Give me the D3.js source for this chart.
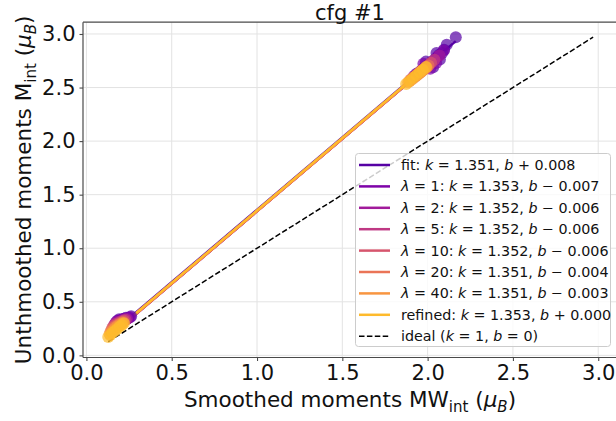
<!DOCTYPE html>
<html><head><meta charset="utf-8">
<script src="https://cdn.jsdelivr.net/npm/d3@7"></script>
<style>
body{margin:0;background:#fff}
svg{display:block;font-family:"DejaVu Sans",sans-serif}
text{white-space:pre}
</style>
</head><body><svg id="c" width="616" height="421"></svg>
<script>
// ---------- data ----------
const seriesTags = ["fit", "1", "2", "5", "10", "20", "40", "refined"];
const seriesK = [1.351, 1.353, 1.352, 1.352, 1.352, 1.351, 1.351, 1.353];
const seriesB = [0.008, -0.007, -0.006, -0.006, -0.006, -0.004, -0.003, 0.000];

const ptsFit = [[0.178,0.318],[0.192,0.336],[0.205,0.330],[0.218,0.342],[0.232,0.350],[0.248,0.352],[0.262,0.364],[0.200,0.312],
  [1.935,2.628],[1.958,2.652],[1.982,2.690],[2.004,2.712],[2.026,2.744],[2.047,2.770],[2.068,2.805],[2.085,2.822],[2.112,2.900],[2.165,2.970],
  [1.990,2.742],[2.032,2.690],[2.072,2.762],[2.052,2.822],[2.096,2.852]];
const ptsL1 = [[0.172,0.305],[0.186,0.326],[0.199,0.322],[0.213,0.336],[0.228,0.344],[0.243,0.346],[0.256,0.356],
  [1.925,2.612],[1.950,2.640],[1.974,2.676],[1.996,2.700],[2.018,2.730],[2.040,2.758],[2.060,2.790],[2.095,2.846],
  [1.975,2.722],[2.015,2.676],[2.050,2.730]];
const ptsL2 = [[0.165,0.290],[0.179,0.312],[0.193,0.312],[0.207,0.326],[0.222,0.334],[0.238,0.340],
  [1.918,2.600],[1.942,2.628],[1.966,2.662],[1.988,2.688],[2.010,2.716],[2.032,2.742],[2.070,2.800]];
const ptsL5 = [[0.158,0.272],[0.172,0.296],[0.186,0.300],[0.200,0.314],[0.215,0.322],[0.230,0.332],
  [1.910,2.588],[1.934,2.614],[1.957,2.648],[1.979,2.674],[2.001,2.700],[2.040,2.760]];
const ptsL10 = [[0.150,0.250],[0.164,0.276],[0.178,0.284],[0.192,0.300],[0.207,0.310],[0.222,0.322],
  [1.902,2.576],[1.925,2.600],[1.948,2.632],[1.970,2.660],[1.992,2.686],[2.020,2.732]];
const ptsL20 = [[0.142,0.226],[0.156,0.252],[0.170,0.266],[0.185,0.284],[0.200,0.298],[0.216,0.312],
  [1.894,2.562],[1.916,2.588],[1.939,2.618],[1.961,2.646],[1.982,2.672],[2.005,2.706]];
const ptsL40 = [[0.136,0.200],[0.150,0.226],[0.164,0.246],[0.179,0.266],[0.194,0.284],[0.210,0.300],
  [1.886,2.550],[1.908,2.576],[1.930,2.604],[1.952,2.632],[1.972,2.660],[1.994,2.690]];
const ptsRef = [[0.128,0.172],[0.140,0.190],[0.153,0.210],[0.166,0.228],[0.180,0.246],[0.194,0.266],[0.208,0.284],[0.220,0.300],
  [1.874,2.534],[1.894,2.560],[1.914,2.588],[1.934,2.614],[1.954,2.642],[1.972,2.666],[1.990,2.692]];
const seriesPts = [ptsFit, ptsL1, ptsL2, ptsL5, ptsL10, ptsL20, ptsL40, ptsRef];

const xTicks = [0, 0.5, 1.0, 1.5, 2.0, 2.5, 3.0];
const yTicks = [0, 0.5, 1.0, 1.5, 2.0, 2.5, 3.0];
const axisLimits = [-0.02, 3.11];
const titleText = "cfg #1";

// ---------- layout ----------
const L = 83, R = 617, T = 22.2, B = 357.5;
const svg = d3.select("#c");
const x = d3.scaleLinear().domain(axisLimits).range([L, R]);
const y = d3.scaleLinear().domain(axisLimits).range([B, T]);
const colors = seriesTags.map((d, i) => d3.interpolatePlasma(0.15 + i * 0.1));
const spineCol = "#4a4a4a";

svg.append("defs").append("clipPath").attr("id", "clip")
  .append("rect").attr("x", L).attr("y", T).attr("width", R - L).attr("height", B - T);

// grid
const grid = svg.append("g");
grid.selectAll(".gx").data(xTicks).join("line")
  .attr("x1", d => x(d)).attr("x2", d => x(d)).attr("y1", T).attr("y2", B)
  .attr("stroke", "#e3e3e3").attr("stroke-width", 1);
grid.selectAll(".gy").data(yTicks).join("line")
  .attr("y1", d => y(d)).attr("y2", d => y(d)).attr("x1", L).attr("x2", R)
  .attr("stroke", "#e3e3e3").attr("stroke-width", 1);

const plot = svg.append("g").attr("clip-path", "url(#clip)");

// ideal line
const allVals = seriesPts.flat().flat();
const lo = d3.min(allVals), hi = d3.max(allVals);
plot.append("line")
  .attr("x1", x(lo)).attr("y1", y(lo)).attr("x2", x(hi)).attr("y2", y(hi))
  .attr("stroke", "#000").attr("stroke-width", 1.5).attr("stroke-dasharray", "5.5,2.4");

// fit lines
seriesPts.forEach((pts, i) => {
  const ex = d3.extent(pts, d => d[0]);
  plot.append("line")
    .attr("x1", x(ex[0])).attr("y1", y(seriesK[i] * ex[0] + seriesB[i]))
    .attr("x2", x(ex[1])).attr("y2", y(seriesK[i] * ex[1] + seriesB[i]))
    .attr("stroke", colors[i]).attr("stroke-width", 2.5);
});
// scatter
seriesPts.forEach((pts, i) => {
  plot.append("g").selectAll("circle").data(pts).join("circle")
    .attr("cx", d => x(d[0])).attr("cy", d => y(d[1])).attr("r", 6)
    .attr("fill", colors[i]).attr("fill-opacity", 0.7);
});

// spines
svg.append("line").attr("x1", L).attr("x2", L).attr("y1", T).attr("y2", B).attr("stroke", spineCol).attr("stroke-width", 1.2);
svg.append("line").attr("x1", L).attr("x2", R).attr("y1", B).attr("y2", B).attr("stroke", spineCol).attr("stroke-width", 1.2);
svg.append("line").attr("x1", L).attr("x2", R).attr("y1", T).attr("y2", T).attr("stroke", spineCol).attr("stroke-width", 1.2);

// axes
const xAxis = svg.append("g").attr("transform", `translate(0,${B})`)
  .call(d3.axisBottom(x).tickValues(xTicks).tickFormat(d3.format(".1f")).tickSize(3.5).tickPadding(4));
const yAxis = svg.append("g").attr("transform", `translate(${L},0)`)
  .call(d3.axisLeft(y).tickValues(yTicks).tickFormat(d3.format(".1f")).tickSize(3.5).tickPadding(4));
[xAxis, yAxis].forEach(a => {
  a.select(".domain").remove();
  a.selectAll(".tick line").attr("stroke", spineCol).attr("stroke-width", 1.1);
  a.selectAll(".tick text").attr("font-family", "DejaVu Sans").attr("font-size", 21).attr("fill", "#111");
});

// title
svg.append("text").attr("x", (L + R) / 2).attr("y", 19.5).attr("text-anchor", "middle")
  .attr("font-size", 21).attr("fill", "#111").text(titleText);

// axis labels
function labelWithSub(t, main, sub) {
  t.append("tspan").text(main);
  t.append("tspan").text(sub).attr("font-size", "0.7em").attr("dy", 5);
  t.append("tspan").text(" (").attr("dy", -5);
  t.append("tspan").text("μ").attr("font-style", "italic");
  t.append("tspan").text("B").attr("font-style", "italic").attr("font-size", "0.7em").attr("dy", 5);
  t.append("tspan").text(")").attr("dy", -5);
}
const xl = svg.append("text").attr("x", (L + R) / 2).attr("y", 407).attr("text-anchor", "middle")
  .attr("font-size", 21.5).attr("fill", "#111");
labelWithSub(xl, "Smoothed moments MW", "int");
const yl = svg.append("text").attr("transform", `translate(31,${(T + B) / 2}) rotate(-90)`).attr("text-anchor", "middle")
  .attr("font-size", 21.5).attr("fill", "#111");
labelWithSub(yl, "Unthmoothed moments M", "int");

// legend
const lg = svg.append("g");
lg.append("rect").attr("x", 355.5).attr("y", 153.5).attr("width", 255).attr("height", 193).attr("rx", 3)
  .attr("fill", "#fff").attr("fill-opacity", 0.8).attr("stroke", "#cccccc").attr("stroke-width", 1);
const rowY0 = 165, rowDy = 21.4;
function fmtB(b) { return " " + (b < 0 ? "−" : "+") + " " + Math.abs(b).toFixed(3); }
const legendRows = seriesTags.map((tag, i) => {
  let parts;
  if (tag === "fit" || tag === "refined") parts = [[tag + ": ", 0]];
  else parts = [["λ", 1], [" = " + tag + ": ", 0]];
  parts = parts.concat([["k", 1], [" = " + seriesK[i].toFixed(3) + ", ", 0], ["b", 1], [fmtB(seriesB[i]), 0]]);
  return { parts, color: colors[i], dash: null };
});
legendRows.push({ parts: [["ideal (", 0], ["k", 1], [" = 1, ", 0], ["b", 1], [" = 0)", 0]], color: "#000", dash: true });
legendRows.forEach((r, i) => {
  const yy = rowY0 + i * rowDy;
  const ln = lg.append("line").attr("x1", 359).attr("x2", 390).attr("y1", yy).attr("y2", yy)
    .attr("stroke", r.color).attr("stroke-width", r.dash ? 1.5 : 2.5);
  if (r.dash) ln.attr("stroke-dasharray", "5.5,2.4");
  const t = lg.append("text").attr("x", 401).attr("y", yy + 5).attr("font-size", 14.3).attr("fill", "#111");
  r.parts.forEach(p => {
    const s = t.append("tspan").text(p[0]);
    if (p[1]) s.attr("font-style", "italic");
  });
});
</script>
</body></html>
